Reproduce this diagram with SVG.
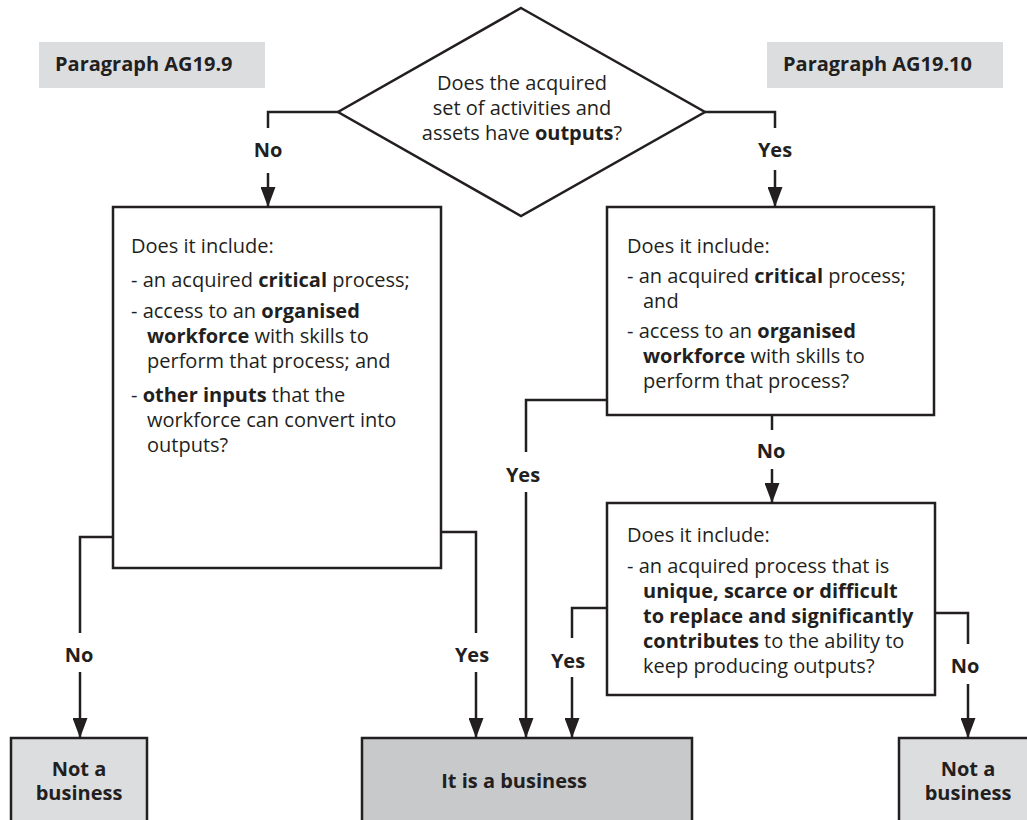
<svg xmlns="http://www.w3.org/2000/svg" width="1027" height="820" viewBox="0 0 1027 820">
<defs>
<style>
.t{font-family:"Open Sans","Liberation Sans",sans-serif;font-size:20px;fill:#231f20}
.b{font-weight:bold}
.c{text-anchor:middle}
.box{fill:#fff;stroke:#231f20;stroke-width:2.5}
.lg{fill:#dcdddf;stroke:#231f20;stroke-width:2.5}
.dg{fill:#c8c9cb;stroke:#231f20;stroke-width:2.5}
.para{fill:#dcdddf}
.ln{fill:none;stroke:#231f20;stroke-width:2.5}
</style>
<marker id="arr" markerUnits="userSpaceOnUse" markerWidth="20" markerHeight="15" refX="20" refY="7.5" orient="auto">
<path d="M0,0 L20,7.5 L0,15 Z" fill="#231f20"/>
</marker>
</defs>

<g id="para-left">
<rect class="para" x="39" y="42" width="226" height="46"/>
<text class="t b" x="55" y="71">Paragraph AG19.9</text>
</g>
<g id="para-right">
<rect class="para" x="767" y="42" width="236" height="46"/>
<text class="t b" x="783" y="71">Paragraph AG19.10</text>
</g>

<g id="decision">
<polygon class="box" points="521,8 705,112 521,216 338,112"/>
<text class="t c" x="522" y="90">Does the acquired</text>
<text class="t c" x="522" y="115">set of activities and</text>
<text class="t c" x="522" y="140">assets have <tspan class="b">outputs</tspan>?</text>
</g>

<g id="box-left">
<rect class="box" x="113" y="207" width="328" height="361"/>
<text class="t" x="131" y="253">Does it include:</text>
<text class="t" x="131" y="287">- an acquired <tspan class="b">critical</tspan> process;</text>
<text class="t" x="131" y="318">- access to an <tspan class="b">organised</tspan></text>
<text class="t" x="147" y="343"><tspan class="b">workforce</tspan> with skills to</text>
<text class="t" x="147" y="368">perform that process; and</text>
<text class="t" x="131" y="402">- <tspan class="b">other inputs</tspan> that the</text>
<text class="t" x="147" y="427">workforce can convert into</text>
<text class="t" x="147" y="452">outputs?</text>
</g>

<g id="box-right">
<rect class="box" x="607" y="207" width="327" height="208"/>
<text class="t" x="627" y="253">Does it include:</text>
<text class="t" x="627" y="283">- an acquired <tspan class="b">critical</tspan> process;</text>
<text class="t" x="643" y="308">and</text>
<text class="t" x="627" y="338">- access to an <tspan class="b">organised</tspan></text>
<text class="t" x="643" y="363"><tspan class="b">workforce</tspan> with skills to</text>
<text class="t" x="643" y="388">perform that process?</text>
</g>

<g id="box-unique">
<rect class="box" x="607" y="503" width="328" height="192"/>
<text class="t" x="627" y="542">Does it include:</text>
<text class="t" x="627" y="573">- an acquired process that is</text>
<text class="t b" x="643" y="598">unique, scarce or difficult</text>
<text class="t b" x="643" y="623">to replace and significantly</text>
<text class="t" x="643" y="648"><tspan class="b">contributes</tspan> to the ability to</text>
<text class="t" x="643" y="673">keep producing outputs?</text>
</g>

<g id="not-business-left">
<rect class="lg" x="11" y="738" width="136" height="100"/>
<text class="t b c" x="79" y="776">Not a</text>
<text class="t b c" x="79" y="800">business</text>
</g>

<g id="business">
<rect class="dg" x="362" y="738" width="330" height="100"/>
<text class="t b c" x="514" y="788">It is a business</text>
</g>

<g id="not-business-right">
<rect class="lg" x="899" y="738" width="136" height="100"/>
<text class="t b c" x="968" y="776">Not a</text>
<text class="t b c" x="968" y="800">business</text>
</g>

<g id="connectors">
<path class="ln" d="M338,112 H268 V128"/>
<path class="ln" d="M268,173 V207" marker-end="url(#arr)"/>
<text class="t b c" x="268" y="157">No</text>

<path class="ln" d="M705,112 H775 V128"/>
<path class="ln" d="M775,170 V207" marker-end="url(#arr)"/>
<text class="t b c" x="775" y="157">Yes</text>

<path class="ln" d="M113,537 H80 V633"/>
<path class="ln" d="M80,672 V738" marker-end="url(#arr)"/>
<text class="t b c" x="79" y="662">No</text>

<path class="ln" d="M441,532 H476 V633"/>
<path class="ln" d="M476,672 V738" marker-end="url(#arr)"/>
<text class="t b c" x="472" y="662">Yes</text>

<path class="ln" d="M607,400 H526 V452"/>
<path class="ln" d="M526,492 V738" marker-end="url(#arr)"/>
<text class="t b c" x="523" y="482">Yes</text>

<path class="ln" d="M772,415 V430"/>
<path class="ln" d="M772,469 V503" marker-end="url(#arr)"/>
<text class="t b c" x="771" y="458">No</text>

<path class="ln" d="M607,608 H572 V638"/>
<path class="ln" d="M572,677 V738" marker-end="url(#arr)"/>
<text class="t b c" x="568" y="668">Yes</text>

<path class="ln" d="M935,613 H968 V644"/>
<path class="ln" d="M968,684 V738" marker-end="url(#arr)"/>
<text class="t b c" x="965" y="673">No</text>
</g>
</svg>
